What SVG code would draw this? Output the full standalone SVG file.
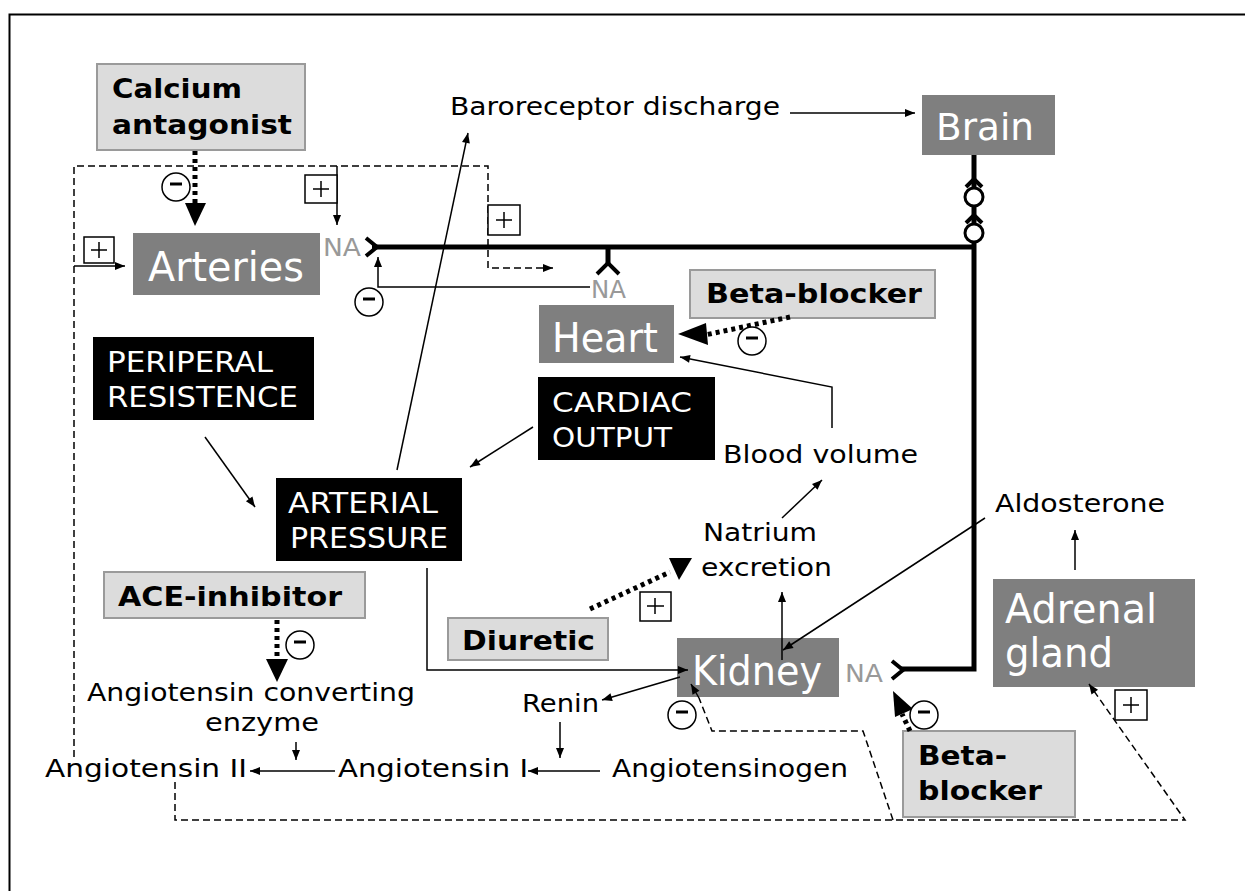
<svg xmlns="http://www.w3.org/2000/svg" width="1245" height="891" viewBox="0 0 1245 891">
<defs>
<style>
text{font-family:"DejaVu Sans","Liberation Sans",sans-serif;}
.lt{fill:#dcdcdc;stroke:#9a9a9a;stroke-width:2;}
.dk{fill:#7f7f7f;}
.bk{fill:#000;}
.wt{fill:#fff;}
.bt{font-weight:bold;fill:#000;font-size:27px;}
.nt{fill:#000;font-size:25px;}
.na{fill:#999;font-size:24px;}
.ln{fill:none;stroke:#000;stroke-width:1.5;}
.ds{fill:none;stroke:#000;stroke-width:1.5;stroke-dasharray:7 4;}
.dt{fill:none;stroke:#000;stroke-width:5;stroke-dasharray:4 4;}
.th{fill:none;stroke:#000;stroke-width:5;}
.pb{fill:#fff;stroke:#000;stroke-width:1.5;}
.pm{fill:none;stroke:#000;stroke-width:1.5;}
.mn{fill:none;stroke:#000;stroke-width:3;}
</style>
<marker id="a" viewBox="0 0 10 10" refX="10" refY="5" markerWidth="11" markerHeight="10" markerUnits="userSpaceOnUse" orient="auto"><path d="M0,1 L10,5 L0,9 z" fill="#000"/></marker>
</defs>
<rect width="1245" height="891" fill="#fff"/>
<rect x="9.5" y="14.5" width="1260" height="900" fill="none" stroke="#000" stroke-width="2"/>

<g id="calcium-antagonist"><rect class="lt" x="97" y="64" width="208" height="86"/>
<text class="bt" x="112" y="98" textLength="130" lengthAdjust="spacingAndGlyphs">Calcium</text>
<text class="bt" x="112" y="134" textLength="180" lengthAdjust="spacingAndGlyphs">antagonist</text></g>

<g id="baroreceptor"><text class="nt" x="450" y="115" textLength="330" lengthAdjust="spacingAndGlyphs">Baroreceptor discharge</text></g>

<g id="brain"><rect class="dk" x="922" y="95" width="133" height="60"/>
<text class="wt" x="936" y="140" font-size="38" textLength="98" lengthAdjust="spacingAndGlyphs">Brain</text></g>

<g id="arteries"><rect class="dk" x="133" y="233" width="187" height="62"/>
<text class="wt" x="148" y="281" font-size="41" textLength="156" lengthAdjust="spacingAndGlyphs">Arteries</text></g>

<g id="na-arteries"><text class="na" x="323" y="256" textLength="38" lengthAdjust="spacingAndGlyphs">NA</text></g>
<g id="na-heart"><text class="na" x="591" y="298" textLength="35" lengthAdjust="spacingAndGlyphs">NA</text></g>
<g id="na-kidney"><text class="na" x="845" y="682" textLength="38" lengthAdjust="spacingAndGlyphs">NA</text></g>

<g id="beta-blocker-heart"><rect class="lt" x="690" y="270" width="245" height="48"/>
<text class="bt" x="706" y="303" textLength="216" lengthAdjust="spacingAndGlyphs">Beta-blocker</text></g>

<g id="heart"><rect class="dk" x="539" y="305" width="135" height="58"/>
<text class="wt" x="552" y="352" font-size="41" textLength="106" lengthAdjust="spacingAndGlyphs">Heart</text></g>

<g id="peripheral-resistance"><rect class="bk" x="93" y="337" width="221" height="83"/>
<text class="wt" x="107" y="372" font-size="28" textLength="166" lengthAdjust="spacingAndGlyphs">PERIPERAL</text>
<text class="wt" x="107" y="407" font-size="28" textLength="191" lengthAdjust="spacingAndGlyphs">RESISTENCE</text></g>

<g id="cardiac-output"><rect class="bk" x="538" y="377" width="177" height="83"/>
<text class="wt" x="552" y="412" font-size="27" textLength="140" lengthAdjust="spacingAndGlyphs">CARDIAC</text>
<text class="wt" x="552" y="447" font-size="27" textLength="120" lengthAdjust="spacingAndGlyphs">OUTPUT</text></g>

<g id="blood-volume"><text class="nt" x="723" y="463" textLength="195" lengthAdjust="spacingAndGlyphs">Blood volume</text></g>

<g id="arterial-pressure"><rect class="bk" x="276" y="478" width="186" height="83"/>
<text class="wt" x="288" y="513" font-size="28" textLength="150" lengthAdjust="spacingAndGlyphs">ARTERIAL</text>
<text class="wt" x="290" y="548" font-size="28" textLength="158" lengthAdjust="spacingAndGlyphs">PRESSURE</text></g>

<g id="natrium-excretion"><text class="nt" x="703" y="541" textLength="114" lengthAdjust="spacingAndGlyphs">Natrium</text>
<text class="nt" x="701" y="576" textLength="131" lengthAdjust="spacingAndGlyphs">excretion</text></g>

<g id="aldosterone"><text class="nt" x="995" y="512" textLength="170" lengthAdjust="spacingAndGlyphs">Aldosterone</text></g>

<g id="adrenal-gland"><rect class="dk" x="993" y="579" width="202" height="108"/>
<text class="wt" x="1005" y="623" font-size="41" textLength="152" lengthAdjust="spacingAndGlyphs">Adrenal</text>
<text class="wt" x="1005" y="667" font-size="41" textLength="108" lengthAdjust="spacingAndGlyphs">gland</text></g>

<g id="ace-inhibitor"><rect class="lt" x="104" y="572" width="261" height="46"/>
<text class="bt" x="118" y="606" textLength="224" lengthAdjust="spacingAndGlyphs">ACE-inhibitor</text></g>

<g id="diuretic"><rect class="lt" x="448" y="618" width="160" height="42"/>
<text class="bt" x="462" y="650" textLength="133" lengthAdjust="spacingAndGlyphs">Diuretic</text></g>

<g id="kidney"><rect class="dk" x="677" y="638" width="162" height="59"/>
<text class="wt" x="692" y="685" font-size="41" textLength="130" lengthAdjust="spacingAndGlyphs">Kidney</text></g>

<g id="ace"><text class="nt" x="87" y="701" textLength="328" lengthAdjust="spacingAndGlyphs">Angiotensin converting</text>
<text class="nt" x="205" y="731" textLength="114" lengthAdjust="spacingAndGlyphs">enzyme</text></g>

<g id="renin"><text class="nt" x="522" y="712" textLength="77" lengthAdjust="spacingAndGlyphs">Renin</text></g>
<g id="angiotensin-ii"><text class="nt" x="45" y="777" textLength="202" lengthAdjust="spacingAndGlyphs">Angiotensin II</text></g>
<g id="angiotensin-i"><text class="nt" x="338" y="777" textLength="190" lengthAdjust="spacingAndGlyphs">Angiotensin I</text></g>
<g id="angiotensinogen"><text class="nt" x="612" y="777" textLength="236" lengthAdjust="spacingAndGlyphs">Angiotensinogen</text></g>

<g id="beta-blocker-kidney"><rect class="lt" x="903" y="731" width="172" height="86"/>
<text class="bt" x="918" y="765" textLength="89" lengthAdjust="spacingAndGlyphs">Beta-</text>
<text class="bt" x="918" y="800" textLength="124" lengthAdjust="spacingAndGlyphs">blocker</text></g>

<g id="connectors">
<path class="th" d="M974,155 V669 H900"/>
<path class="th" d="M372,247 H976"/>
<path class="th" d="M608,247 V264"/>
<path fill="none" stroke="#000" stroke-width="4" d="M597,274 L608,263 L619,274"/>
<path fill="none" stroke="#000" stroke-width="4" d="M366,238 L377,247 L366,256"/>
<path fill="none" stroke="#000" stroke-width="4" d="M892,661 L903,670 L892,679"/>
<path fill="none" stroke="#000" stroke-width="4" d="M966,187 L974,179 L982,187"/>
<circle cx="974" cy="197" r="9" fill="#fff" stroke="#000" stroke-width="3"/>
<path fill="none" stroke="#000" stroke-width="4" d="M966,223 L974,215 L982,223"/>
<circle cx="974" cy="233" r="9" fill="#fff" stroke="#000" stroke-width="3"/>

<line class="ln" x1="790" y1="113" x2="915" y2="113" marker-end="url(#a)"/>
<line class="ln" x1="397" y1="470" x2="468" y2="133" marker-end="url(#a)"/>
<line class="ln" x1="205" y1="437" x2="255" y2="507" marker-end="url(#a)"/>
<line class="ln" x1="533" y1="427" x2="470" y2="467" marker-end="url(#a)"/>
<path class="ln" d="M832,428 V387 L680,357" marker-end="url(#a)"/>
<line class="ln" x1="782" y1="518" x2="822" y2="480" marker-end="url(#a)"/>
<line class="ln" x1="782" y1="660" x2="782" y2="592" marker-end="url(#a)"/>
<line class="ln" x1="985" y1="518" x2="783" y2="650" marker-end="url(#a)"/>
<line class="ln" x1="1075" y1="570" x2="1075" y2="530" marker-end="url(#a)"/>
<path class="ln" d="M427,568 V670 H688" marker-end="url(#a)"/>
<line class="ln" x1="680" y1="677" x2="602" y2="700" marker-end="url(#a)"/>
<line class="ln" x1="560" y1="722" x2="560" y2="758" marker-end="url(#a)"/>
<line class="ln" x1="600" y1="771" x2="528" y2="771" marker-end="url(#a)"/>
<line class="ln" x1="335" y1="771" x2="250" y2="771" marker-end="url(#a)"/>
<line class="ln" x1="296" y1="742" x2="296" y2="760" marker-end="url(#a)"/>
<path class="ln" d="M590,287 H378 V257" marker-end="url(#a)"/>
<line class="ln" x1="337" y1="166" x2="337" y2="225" marker-end="url(#a)"/>
<line class="ln" x1="74" y1="266" x2="125" y2="266" marker-end="url(#a)"/>

<path class="ds" d="M74,757 V166 H488 V268 H553" marker-end="url(#a)"/>
<path class="ds" d="M175,782 V820 H1185 L1089,684" marker-end="url(#a)"/>
<path class="ds" d="M893,820 L863,731 H712 L699,698"/>
<line x1="699" y1="698" x2="691" y2="684" stroke="#000" stroke-width="1.5" marker-end="url(#a)"/>

<line class="dt" x1="195" y1="151" x2="195" y2="203"/>
<polygon points="185,203 206,203 195,226" fill="#000"/>
<line class="dt" x1="790" y1="317" x2="705" y2="335"/>
<polygon points="678,334 706,323 708,345" fill="#000"/>
<line class="dt" x1="277" y1="620" x2="277" y2="660"/>
<polygon points="266,659 288,659 277,682" fill="#000"/>
<line class="dt" x1="590" y1="609" x2="670" y2="572"/>
<polygon points="669,558 692,558 679,580" fill="#000"/>
<line class="dt" x1="910" y1="731" x2="902" y2="714"/>
<polygon points="893,691 913,709 895,717" fill="#000"/>

<rect class="pb" x="84" y="237" width="30" height="26"/><path class="pm" d="M91,250 H107 M99,242 V258"/>
<rect class="pb" x="305" y="175" width="32" height="28"/><path class="pm" d="M313,189 H329 M321,181 V197"/>
<rect class="pb" x="488" y="205" width="32" height="30"/><path class="pm" d="M496,220 H512 M504,212 V228"/>
<rect class="pb" x="640" y="592" width="31" height="29"/><path class="pm" d="M647,606 H664 M655,598 V614"/>
<rect class="pb" x="1115" y="690" width="32" height="30"/><path class="pm" d="M1123,705 H1139 M1131,697 V713"/>

<circle class="pb" cx="176" cy="187" r="14"/><path class="mn" d="M170,184 H182"/>
<circle class="pb" cx="369" cy="302" r="14"/><path class="mn" d="M363,299 H375"/>
<circle class="pb" cx="752" cy="341" r="14"/><path class="mn" d="M746,338 H758"/>
<circle class="pb" cx="300" cy="645" r="14"/><path class="mn" d="M294,642 H306"/>
<circle class="pb" cx="682" cy="715" r="14"/><path class="mn" d="M676,712 H688"/>
<circle class="pb" cx="924" cy="715" r="14"/><path class="mn" d="M918,712 H930"/>
</g>
</svg>
